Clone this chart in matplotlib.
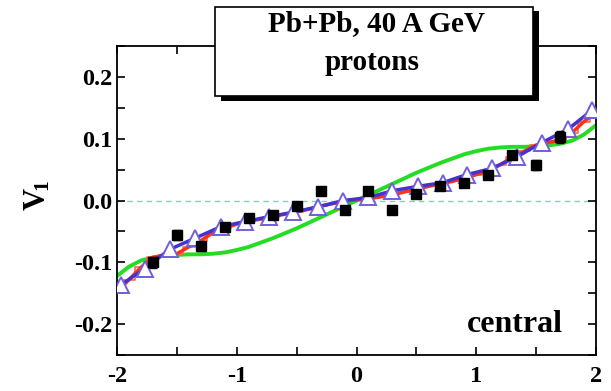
import numpy as np
import matplotlib.pyplot as plt
from matplotlib.patches import Rectangle
from matplotlib.ticker import MultipleLocator

plt.rcParams['font.family'] = ['Liberation Serif', 'DejaVu Serif']
plt.rcParams['font.weight'] = 'bold'
plt.rcParams['mathtext.fontset'] = 'custom'
plt.rcParams['mathtext.rm'] = 'Liberation Serif:bold'
plt.rcParams['mathtext.bf'] = 'Liberation Serif:bold'
plt.rcParams['mathtext.it'] = 'Liberation Serif:bold'

# data points (black squares)
x_data = [-1.7, -1.5, -1.3, -1.1, -0.9, -0.7, -0.5, -0.3, -0.1,
          0.1, 0.3, 0.5, 0.7, 0.9, 1.1, 1.3, 1.5, 1.7]
y_data = [-0.100, -0.056, -0.074, -0.042, -0.029, -0.023, -0.008, 0.016, -0.016,
          0.015, -0.015, 0.010, 0.023, 0.029, 0.042, 0.074, 0.058, 0.103]
y_err = [0.009, 0.008, 0.007, 0.006, 0.006, 0.006, 0.006, 0.006, 0.006,
         0.006, 0.006, 0.006, 0.006, 0.006, 0.006, 0.007, 0.008, 0.009]

# model with triangles
x_tri = [-1.97, -1.77, -1.56, -1.35, -1.13, -0.93, -0.73, -0.53, -0.32, -0.11,
         0.10, 0.30, 0.51, 0.72, 0.92, 1.13, 1.34, 1.55, 1.77, 1.97]
y_tri = [-0.137, -0.110, -0.079, -0.061, -0.042, -0.034, -0.026, -0.019, -0.010, 0.000,
         0.005, 0.016, 0.023, 0.029, 0.042, 0.052, 0.071, 0.094, 0.116, 0.147]

# red model
x_red = [-2.0, -1.9, -1.8, -1.7, -1.6, -1.5, -1.4, -1.3, -1.2, -1.1, -1.0, -0.9, -0.8,
         -0.7, -0.6, -0.5, -0.4, -0.3, -0.2, -0.1, 0.0, 0.1, 0.2, 0.3, 0.4, 0.5, 0.6,
         0.7, 0.8, 0.9, 1.0, 1.1, 1.2, 1.3, 1.4, 1.5, 1.6, 1.7, 1.8, 1.9, 2.0]
y_red = [-0.148, -0.128, -0.108, -0.092, -0.088, -0.086, -0.075, -0.065, -0.052, -0.045,
         -0.038, -0.033, -0.030, -0.026, -0.022, -0.018, -0.014, -0.009, -0.005, 0.000,
         0.001, 0.003, 0.006, 0.009, 0.014, 0.018, 0.023, 0.027, 0.031, 0.036, 0.042,
         0.048, 0.058, 0.070, 0.080, 0.090, 0.094, 0.098, 0.110, 0.128, 0.142]

# green model
x_green = [-2.0, -1.9, -1.8, -1.7, -1.6, -1.5, -1.4, -1.3, -1.2, -1.1, -1.0, -0.9, -0.8,
           -0.7, -0.6, -0.5, -0.4, -0.3, -0.2, -0.1, 0.0, 0.1, 0.2, 0.3, 0.4, 0.5, 0.6,
           0.7, 0.8, 0.9, 1.0, 1.1, 1.2, 1.3, 1.4, 1.5, 1.6, 1.7, 1.8, 1.9, 2.0]
y_green = [-0.122, -0.107, -0.097, -0.092, -0.089, -0.088, -0.087, -0.087, -0.086, -0.084,
           -0.080, -0.075, -0.068, -0.061, -0.053, -0.045, -0.036, -0.027, -0.018, -0.009,
           0.000, 0.009, 0.018, 0.027, 0.036, 0.045, 0.053, 0.061, 0.068, 0.075, 0.080,
           0.084, 0.086, 0.087, 0.087, 0.088, 0.089, 0.092, 0.097, 0.107, 0.122]

fig = plt.figure(figsize=(6.11, 3.91), dpi=100)
ax = fig.add_axes([0.1915, 0.092, 0.784, 0.790])

ax.axhline(0, color='#88ccbb', lw=1, ls=(0, (4, 3)), zorder=1)
ax.plot(x_green, y_green, color='#22dd22', lw=2.8, zorder=2)
ax.plot(x_red, y_red, color='#ff6650', lw=1.2, drawstyle='steps-mid', zorder=3)
ax.plot(x_red, y_red, color='#ff3311', lw=2.5, zorder=3)
ax.plot(x_tri, y_tri, color='#4433cc', lw=2.5, zorder=4)
ax.plot(x_tri, y_tri, ls='none', marker='^', ms=11, mfc='white', mec='#7060dd',
        mew=1.4, zorder=5)
ax.errorbar(x_data, y_data, yerr=y_err, fmt='s', color='black', ms=7.5,
            capsize=3, elinewidth=1, zorder=6)

ax.set_xlim(-2, 2)
ax.set_ylim(-0.25, 0.25)
ax.xaxis.set_minor_locator(MultipleLocator(0.5))
ax.yaxis.set_minor_locator(MultipleLocator(0.05))
ax.set_xticks([-2, -1, 0, 1, 2])
ax.set_xticklabels(['-2', '-1', '0', '1', '2'])
ax.set_yticks([-0.2, -0.1, 0.0, 0.1, 0.2])
ax.set_yticklabels(['-0.2', '-0.1', '0.0', '0.1', '0.2'])
ax.tick_params(which='both', direction='in', top=True, right=True, labelsize=17.5,
               width=1.2, length=6)
ax.tick_params(axis='x', pad=8)
for s in ax.spines.values():
    s.set_linewidth(1.3)

ax.set_ylabel(r'$\mathbf{V_{\!1}}$', fontsize=22)
ax.yaxis.set_label_coords(-0.135, 0.515)
ax.text(0.93, 0.1, 'central', transform=ax.transAxes, ha='right', va='center',
        fontsize=23, fontweight='bold')

# header box with shadow
W, H = 611, 391
fig.patches.append(Rectangle((221 / W, 1 - 101 / H), 318 / W, 90 / H,
                             transform=fig.transFigure, facecolor='black', zorder=10))
fig.patches.append(Rectangle((215 / W, 1 - 96 / H), 318 / W, 89 / H,
                             transform=fig.transFigure, facecolor='white',
                             edgecolor='black', lw=1.2, zorder=11))
fig.text(376 / W, 1 - 24 / H, 'Pb+Pb, 40 A GeV', ha='center', va='center',
         fontsize=21, fontweight='bold', zorder=12)
fig.text(372 / W, 1 - 62 / H, 'protons', ha='center', va='center',
         fontsize=21, fontweight='bold', zorder=12)

fig.savefig('out.png', dpi=100)
